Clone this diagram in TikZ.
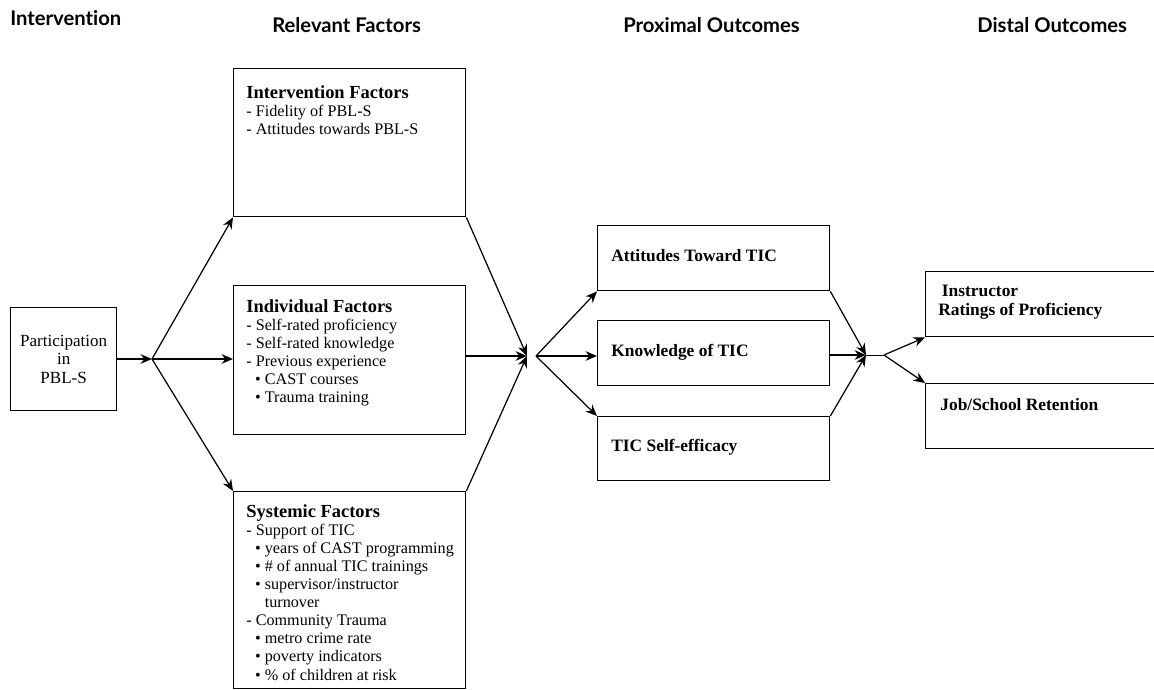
\documentclass[tikz,border=0pt]{standalone}
\usepackage{fontspec}
\setmainfont{Liberation Serif}
\newfontfamily\headfont[Ligatures=NoCommon]{Lato}
\usetikzlibrary{arrows.meta,calc,positioning}

\tikzset{
  box/.style={draw,line width=0.8pt,anchor=north west,inner sep=0pt,minimum width=4.64cm},
  boxtext/.style={anchor=north west,align=left,inner sep=0pt,font=\fontsize{9.2}{10.3}\selectfont},
  outtext/.style={anchor=west,align=left,inner sep=0pt,font=\bfseries\fontsize{9.9}{10.6}\selectfont},
  heading/.style={anchor=west,inner sep=0pt,font=\headfont\bfseries\fontsize{11.5}{13}\selectfont},
  arr/.style={-{Stealth[length=6.5pt,width=5.5pt]},line width=0.7pt}
}
\newcommand{\itm}{\hspace*{5pt}\textbullet\ }
\newcommand{\itmgap}{\hspace*{5pt}\phantom{\textbullet\ }}
\newcommand{\boxtitle}[1]{{\bfseries\fontsize{10.5}{10.3}\selectfont #1}}

\begin{document}
\begin{tikzpicture}[x=0.02cm,y=-0.02cm]
  \useasboundingbox (0,0) rectangle (1154,690);
  \clip (0,0) rectangle (1154,690);

  % column headings
  \node[heading] (hint) at (10,18) {Intervention};
  \node[heading] (hrel) at (272,25) {Relevant Factors};
  \node[heading] (hpro) at (623,25) {Proximal Outcomes};
  \node[heading] (hdis) at (977,25) {Distal Outcomes};

  % intervention
  \node[box,minimum width=2.12cm,minimum height=2.06cm,align=center,
        font=\fontsize{9.7}{10.4}\selectfont] (part) at (10,307)
        {Participation\\in\\PBL-S};

  % relevant factors
  \node[box,minimum height=2.96cm] (intf) at (233,68) {};
  \node[boxtext] (intf-t) at ($(intf.north west)+(13,17)$)
    {\boxtitle{Intervention Factors}\\
     - Fidelity of PBL-S\\
     - Attitudes towards PBL-S};
  \node[box,minimum height=2.98cm] (indf) at (233,285) {};
  \node[boxtext] (indf-t) at ($(indf.north west)+(13,14)$)
    {\boxtitle{Individual Factors}\\
     - Self-rated proficiency\\
     - Self-rated knowledge\\
     - Previous experience\\
     \itm CAST courses\\
     \itm Trauma training};
  \node[box,minimum height=3.94cm] (sysf) at (233,491) {};
  \node[boxtext] (sysf-t) at ($(sysf.north west)+(13,13)$)
    {\boxtitle{Systemic Factors}\\
     - Support of TIC\\
     \itm years of CAST programming\\
     \itm \# of annual TIC trainings\\
     \itm supervisor/instructor\\
     \itmgap turnover\\
     - Community Trauma\\
     \itm metro crime rate\\
     \itm poverty indicators\\
     \itm \% of children at risk};

  % proximal outcomes
  \node[box,minimum height=1.3cm] (att) at (597,225) {};
  \node[outtext] (att-t) at (611,256) {Attitudes Toward TIC};
  \node[box,minimum height=1.3cm] (know) at (597,320) {};
  \node[outtext] (know-t) at (611,352) {Knowledge of TIC};
  \node[box,minimum height=1.28cm] (eff) at (597,416) {};
  \node[outtext] (eff-t) at (611,447) {TIC Self-efficacy};

  % distal outcomes
  \node[box,minimum width=4.9cm,minimum height=1.3cm] (instr) at (925,271) {};
  \node[outtext] (instr-t) at (938,302) {\hspace*{2pt}Instructor\\Ratings of Proficiency};
  \node[box,minimum width=4.9cm,minimum height=1.3cm] (job) at (925,383) {};
  \node[outtext] (job-t) at (940,405) {Job/School Retention};

  % junctions
  \coordinate (j1) at (152,359);
  \coordinate (j2) at (527,356);
  \coordinate (j2o) at (536,356);
  \coordinate (j3) at (866,355);
  \coordinate (j3o) at (884,355);

  % connectors
  \draw[arr] (part.east |- j1) -- (j1);
  \draw[arr] (j1) -- (intf.south west);
  \draw[arr] (j1) -- (indf.west |- j1);
  \draw[arr] (j1) -- (sysf.north west);

  \draw[arr] (intf.south east) -- (j2);
  \draw[arr] (indf.east |- j2) -- (j2);
  \draw[arr] (sysf.north east) -- (j2);

  \draw[arr] (j2o) -- (att.south west);
  \draw[arr] (j2o) -- (know.west |- j2o);
  \draw[arr] (j2o) -- (eff.north west);

  \draw[arr] (att.south east) -- (j3);
  \draw[arr] (know.east |- j3) -- (j3);
  \draw[arr] (eff.north east) -- (j3);

  \draw (j3) -- (j3o);
  \draw[arr] (j3o) -- (instr.south west);
  \draw[arr] (j3o) -- (job.north west);
\end{tikzpicture}
\end{document}
